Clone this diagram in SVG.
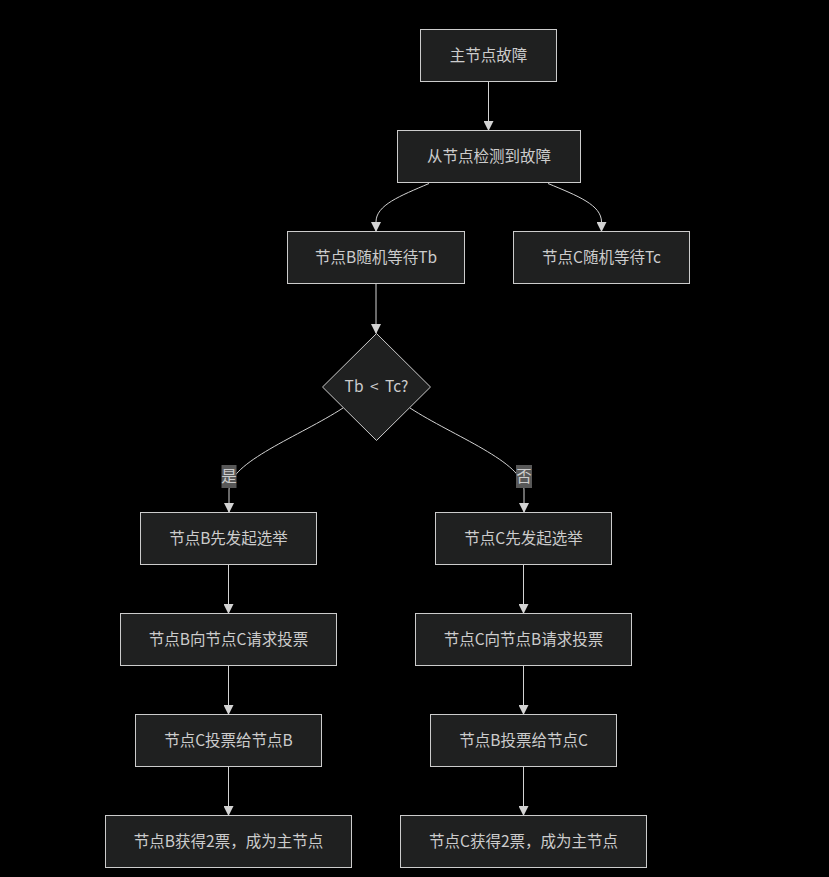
<svg xmlns="http://www.w3.org/2000/svg" width="829" height="877" viewBox="0 0 829 877">
<style>
.node rect,.node polygon{fill:#1f2020;stroke:#cccccc;stroke-width:1}
.node text,.lbl text{font-family:"Noto Sans CJK SC","Noto Sans",sans-serif;font-size:15.5px;fill:#cccccc;text-anchor:middle;dominant-baseline:central}
.edges path{fill:none;stroke:#d3d3d3;stroke-width:1}
.lbl rect{fill:#585858}
</style>
<defs>
<marker id="arr" viewBox="0 0 10 10" refX="9" refY="5" markerWidth="10" markerHeight="10" markerUnits="userSpaceOnUse" orient="auto">
<path d="M0,0 L10,5 L0,10 z" fill="#d3d3d3"/>
</marker>
</defs>
<rect width="829" height="877" fill="#000000"/>
<g class="edges">
<path d="M488.5,82 L488.5,130" marker-end="url(#arr)"/>
<path d="M429,183.5 C400,196 376,205 376,222 L376,231" marker-end="url(#arr)"/>
<path d="M548,183.5 C578,196 601.5,205 601.5,222 L601.5,231" marker-end="url(#arr)"/>
<path d="M376,284 L376,333" marker-end="url(#arr)"/>
<path d="M343,408 C300,436 229,462 229,490 L229,512" marker-end="url(#arr)"/>
<path d="M410,408 C453,436 524,462 524,490 L524,512" marker-end="url(#arr)"/>
<path d="M228.5,565 L228.5,613" marker-end="url(#arr)"/>
<path d="M228.5,666 L228.5,714" marker-end="url(#arr)"/>
<path d="M228.5,767 L228.5,815" marker-end="url(#arr)"/>
<path d="M523.5,565 L523.5,613" marker-end="url(#arr)"/>
<path d="M523.5,666 L523.5,714" marker-end="url(#arr)"/>
<path d="M523.5,767 L523.5,815" marker-end="url(#arr)"/>
</g>
<g class="lbl" id="lbl-yes"><rect x="221.5" y="465" width="15" height="23"/><text x="229" y="474.5">是</text></g>
<g class="lbl" id="lbl-no"><rect x="516" y="465" width="16" height="23"/><text x="524" y="474.5">否</text></g>
<g class="node" id="n1"><rect x="420.5" y="29.5" width="136" height="52"/><text x="488.5" y="53.5">主节点故障</text></g>
<g class="node" id="n2"><rect x="397.5" y="130.5" width="183" height="52"/><text x="489" y="154.5">从节点检测到故障</text></g>
<g class="node" id="n3"><rect x="287.5" y="231.5" width="177" height="52"/><text x="376" y="255.5">节点B随机等待Tb</text></g>
<g class="node" id="n4"><rect x="513.5" y="231.5" width="176" height="52"/><text x="601.5" y="255.5">节点C随机等待Tc</text></g>
<g class="node" id="d1"><polygon points="376.5,333.5 430.5,387 376.5,440.5 322.5,387"/><text x="376.5" y="385" word-spacing="3">Tb &lt; Tc?</text></g>
<g class="node" id="b1"><rect x="140.5" y="512.5" width="176" height="52"/><text x="228.5" y="536.5">节点B先发起选举</text></g>
<g class="node" id="b2"><rect x="120.5" y="613.5" width="216" height="52"/><text x="228.5" y="637.5">节点B向节点C请求投票</text></g>
<g class="node" id="b3"><rect x="135.5" y="714.5" width="186" height="52"/><text x="228.5" y="738.5">节点C投票给节点B</text></g>
<g class="node" id="b4"><rect x="105.5" y="815.5" width="246" height="52"/><text x="228.5" y="839.5">节点B获得2票，成为主节点</text></g>
<g class="node" id="c1"><rect x="435.5" y="512.5" width="176" height="52"/><text x="523.5" y="536.5">节点C先发起选举</text></g>
<g class="node" id="c2"><rect x="415.5" y="613.5" width="216" height="52"/><text x="523.5" y="637.5">节点C向节点B请求投票</text></g>
<g class="node" id="c3"><rect x="430.5" y="714.5" width="186" height="52"/><text x="523.5" y="738.5">节点B投票给节点C</text></g>
<g class="node" id="c4"><rect x="400.5" y="815.5" width="246" height="52"/><text x="523.5" y="839.5">节点C获得2票，成为主节点</text></g>
</svg>
